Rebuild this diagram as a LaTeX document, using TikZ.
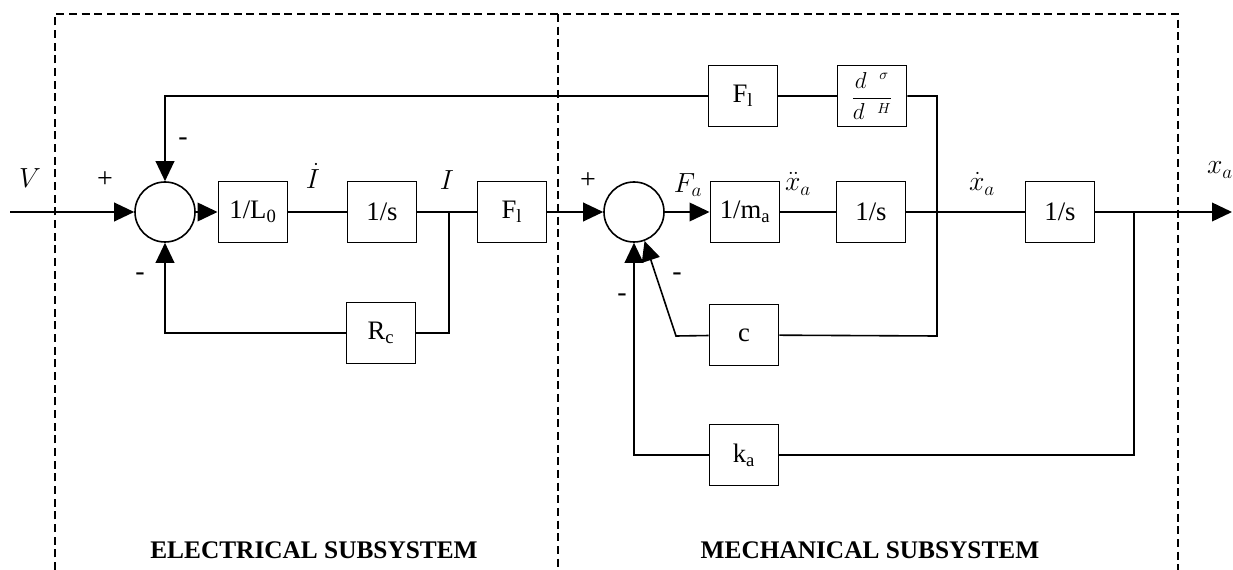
\documentclass[tikz,border=0pt]{standalone}
\usepackage{amsmath}
\usepackage{fontspec}
\setmainfont{Liberation Serif}
\usepackage{tikz}
\usetikzlibrary{arrows.meta, positioning, calc}

\begin{document}
\begin{tikzpicture}[
    x=0.75pt, y=-0.75pt,
    line width=1.2pt,
    block/.style={rectangle, draw, minimum width=52pt, minimum height=46pt,
                  inner sep=0pt, font=\fontsize{20}{22}\selectfont},
    sum/.style={circle, draw, minimum size=45pt, inner sep=0pt},
    sig/.style={font=\fontsize{20}{22}\selectfont},
    sgn/.style={font=\fontsize{21}{23}\selectfont},
    frame/.style={line width=1.1pt, dash pattern=on 6pt off 3.5pt},
    title/.style={font=\fontsize{19}{22}\selectfont\bfseries},
    >={Triangle[length=15pt, width=14pt]}
]
\useasboundingbox (0,0) rectangle (1233,570);

\draw[frame] (55,570) -- (55,14) -- (1178,14) -- (1178,570);
\draw[frame] (558,14) -- (558,570);

\node[sum] (sumE) at (165,212) {};
\node[block] (invL) at (253,212) {1/L\textsubscript{0}};
\node[block] (intI) at (382,212) {1/s};
\node[block] (gainF) at (512,212) {F\textsubscript{l}};
\node[block] (res) at (381,333) {R\textsubscript{c}};

\node[sum] (sumM) at (634,212) {};
\node[block] (invm) at (745,212) {1/m\textsubscript{a}};
\node[block] (intv) at (871,212) {1/s};
\node[block] (intx) at (1060,212) {1/s};
\node[block] (backF) at (743,96) {F\textsubscript{l}};
\node[block] (deriv) at (872,96) {\fontsize{16}{18}\selectfont$\dfrac{d\;\;^{\sigma}}{d\;\;^{H}}$};
\node[block] (damp) at (744,335) {c};
\node[block] (spring) at (744,455) {k\textsubscript{a}};

\coordinate (in) at (10,212);
\coordinate (out) at (1232,212);
\coordinate (pickI) at (449,212);
\coordinate (pickv) at (937,212);
\coordinate (pickx) at (1134,212);
\coordinate (cturn) at (937,336);
\coordinate (dturn) at (676,336);

\draw[->] (in) -- (sumE);
\draw[->] (sumE) -- (invL);
\draw (invL) -- (intI);
\draw (intI) -- (gainF);
\draw[->] (gainF) -- (sumM);
\draw[->] (sumM) -- (invm);
\draw (invm) -- (intv);
\draw (intv) -- (intx);
\draw[->] (intx) -- (out);

\draw (pickI) |- (res);
\draw[->] (res) -| (sumE);
\draw (deriv) -| (cturn) -- (damp);
\draw (deriv) -- (backF);
\draw[->] (backF) -| (sumE);
\draw[->] (damp) -- (dturn) -- (sumM.-70);
\draw (spring) -| (pickx);
\draw[->] (spring) -| (sumM);

\node[sig] (lV) at (30,178) {$V$};
\node[sgn] (pE1) at (105,180) {+};
\node[sgn] (mE1) at (183,142) {-};
\node[sgn] (mE2) at (140,277) {-};
\node[sig] (lIdot) at (313,176) {$\dot{I}$};
\node[sig] (lI) at (447,180) {$I$};
\node[sgn] (pM1) at (588,181) {+};
\node[sig] (lF) at (688,185) {$F_a$};
\node[sig] (lacc) at (798,184) {$\ddot{x}_a$};
\node[sig] (lvel) at (982,184) {$\dot{x}_a$};
\node[sig] (lpos) at (1220,170) {$x_a$};
\node[sgn] (mM1) at (677,277) {-};
\node[sgn] (mM2) at (622,298) {-};

\node[title] (tE) at (314,550) {ELECTRICAL SUBSYSTEM};
\node[title] (tM) at (870,550) {MECHANICAL SUBSYSTEM};
\end{tikzpicture}
\end{document}
